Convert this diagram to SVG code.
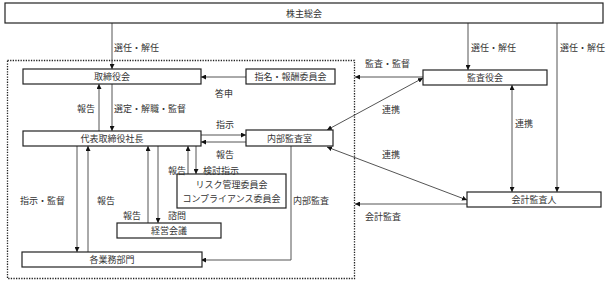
<svg xmlns="http://www.w3.org/2000/svg" width="608" height="285" viewBox="0 0 608 285">
<style>
.box{fill:#fff;stroke:#222;stroke-width:1.2}
.t{font-family:"Noto Sans CJK JP","Noto Sans CJK SC",sans-serif;font-size:9px;fill:#333}
.c{text-anchor:middle;dominant-baseline:central}
.l{dominant-baseline:central}
.ln{fill:none;stroke:#555;stroke-width:1}
</style>
<defs>
<marker id="a" viewBox="0 0 10 10" refX="10" refY="5" markerWidth="5" markerHeight="5" orient="auto-start-reverse" markerUnits="userSpaceOnUse">
<path d="M0,0L10,5L0,10z" fill="#111"/>
</marker>
</defs>
<rect x="7.5" y="60.5" width="347" height="218" fill="none" stroke="#222" stroke-width="1.3" stroke-dasharray="1.3,1.3"/>
<g id="connectors">
<line class="ln" x1="112" y1="23" x2="112" y2="69" marker-end="url(#a)"/>
<line class="ln" x1="468" y1="23" x2="468" y2="70" marker-end="url(#a)"/>
<line class="ln" x1="557" y1="23" x2="557" y2="192" marker-end="url(#a)"/>
<line class="ln" x1="246" y1="77" x2="201" y2="77" marker-end="url(#a)"/>
<line class="ln" x1="423" y1="77" x2="355" y2="77" marker-end="url(#a)"/>
<line class="ln" x1="99" y1="131" x2="99" y2="84" marker-end="url(#a)"/>
<line class="ln" x1="112" y1="84" x2="112" y2="131" marker-end="url(#a)"/>
<line class="ln" x1="201" y1="135" x2="246" y2="135" marker-end="url(#a)"/>
<line class="ln" x1="246" y1="142" x2="201" y2="142" marker-end="url(#a)"/>
<line class="ln" x1="188" y1="174" x2="188" y2="146" marker-end="url(#a)"/>
<line class="ln" x1="196" y1="146" x2="196" y2="174" marker-end="url(#a)"/>
<line class="ln" x1="77" y1="146" x2="77" y2="252" marker-end="url(#a)"/>
<line class="ln" x1="88" y1="252" x2="88" y2="146" marker-end="url(#a)"/>
<line class="ln" x1="148" y1="223" x2="148" y2="146" marker-end="url(#a)"/>
<line class="ln" x1="158" y1="146" x2="158" y2="223" marker-end="url(#a)"/>
<polyline class="ln" points="291,146 291,260 201,260" marker-end="url(#a)"/>
<line class="ln" x1="327" y1="130" x2="423" y2="78" marker-start="url(#a)" marker-end="url(#a)"/>
<line class="ln" x1="327" y1="147" x2="467" y2="200" marker-start="url(#a)" marker-end="url(#a)"/>
<line class="ln" x1="512" y1="85" x2="512" y2="192" marker-start="url(#a)" marker-end="url(#a)"/>
<line class="ln" x1="467" y1="204" x2="355" y2="204" marker-end="url(#a)"/>
</g>
<g id="n_shareholders"><rect class="box" x="5" y="3" width="598" height="20"/><text class="t c" x="304" y="13">株主総会</text></g>
<g id="n_board"><rect class="box" x="23" y="69" width="178" height="15"/><text class="t c" x="112" y="76.5">取締役会</text></g>
<g id="n_nomination"><rect class="box" x="246" y="69" width="89" height="15"/><text class="t c" x="290.5" y="76.5">指名・報酬委員会</text></g>
<g id="n_auditors"><rect class="box" x="423" y="70" width="124" height="15"/><text class="t c" x="485" y="77.5">監査役会</text></g>
<g id="n_president"><rect class="box" x="23" y="131" width="178" height="15"/><text class="t c" x="112" y="138.5">代表取締役社長</text></g>
<g id="n_internal"><rect class="box" x="246" y="130" width="87" height="16"/><text class="t c" x="289.5" y="138">内部監査室</text></g>
<g id="n_committees"><rect class="box" x="177" y="174" width="109" height="34"/><text class="t c" x="231.5" y="184">リスク管理委員会</text><text class="t c" x="231.5" y="198">コンプライアンス委員会</text></g>
<g id="n_mgmt"><rect class="box" x="117" y="223" width="104" height="15"/><text class="t c" x="169" y="230.5">経営会議</text></g>
<g id="n_depts"><rect class="box" x="22" y="252" width="180" height="15"/><text class="t c" x="112" y="259.5">各業務部門</text></g>
<g id="n_accountant"><rect class="box" x="467" y="192" width="134" height="15"/><text class="t c" x="534" y="199.5">会計監査人</text></g>
<g id="labels">
<text class="t l" x="114" y="47">選任・解任</text>
<text class="t l" x="471" y="47">選任・解任</text>
<text class="t l" x="560" y="47">選任・解任</text>
<text class="t l" x="365" y="63">監査・監督</text>
<text class="t l" x="215" y="93">答申</text>
<text class="t l" x="77" y="108">報告</text>
<text class="t l" x="114" y="108">選定・解職・監督</text>
<text class="t l" x="216" y="124">指示</text>
<text class="t l" x="216" y="154">報告</text>
<text class="t l" x="168" y="170">報告</text>
<text class="t l" x="203" y="170">検討指示</text>
<text class="t l" x="382" y="109">連携</text>
<text class="t l" x="515" y="123">連携</text>
<text class="t l" x="382" y="154">連携</text>
<text class="t l" x="20" y="200">指示・監督</text>
<text class="t l" x="97" y="200">報告</text>
<text class="t l" x="293" y="200">内部監査</text>
<text class="t l" x="123" y="215">報告</text>
<text class="t l" x="168" y="215">諮問</text>
<text class="t l" x="365" y="216">会計監査</text>
</g>
</svg>
